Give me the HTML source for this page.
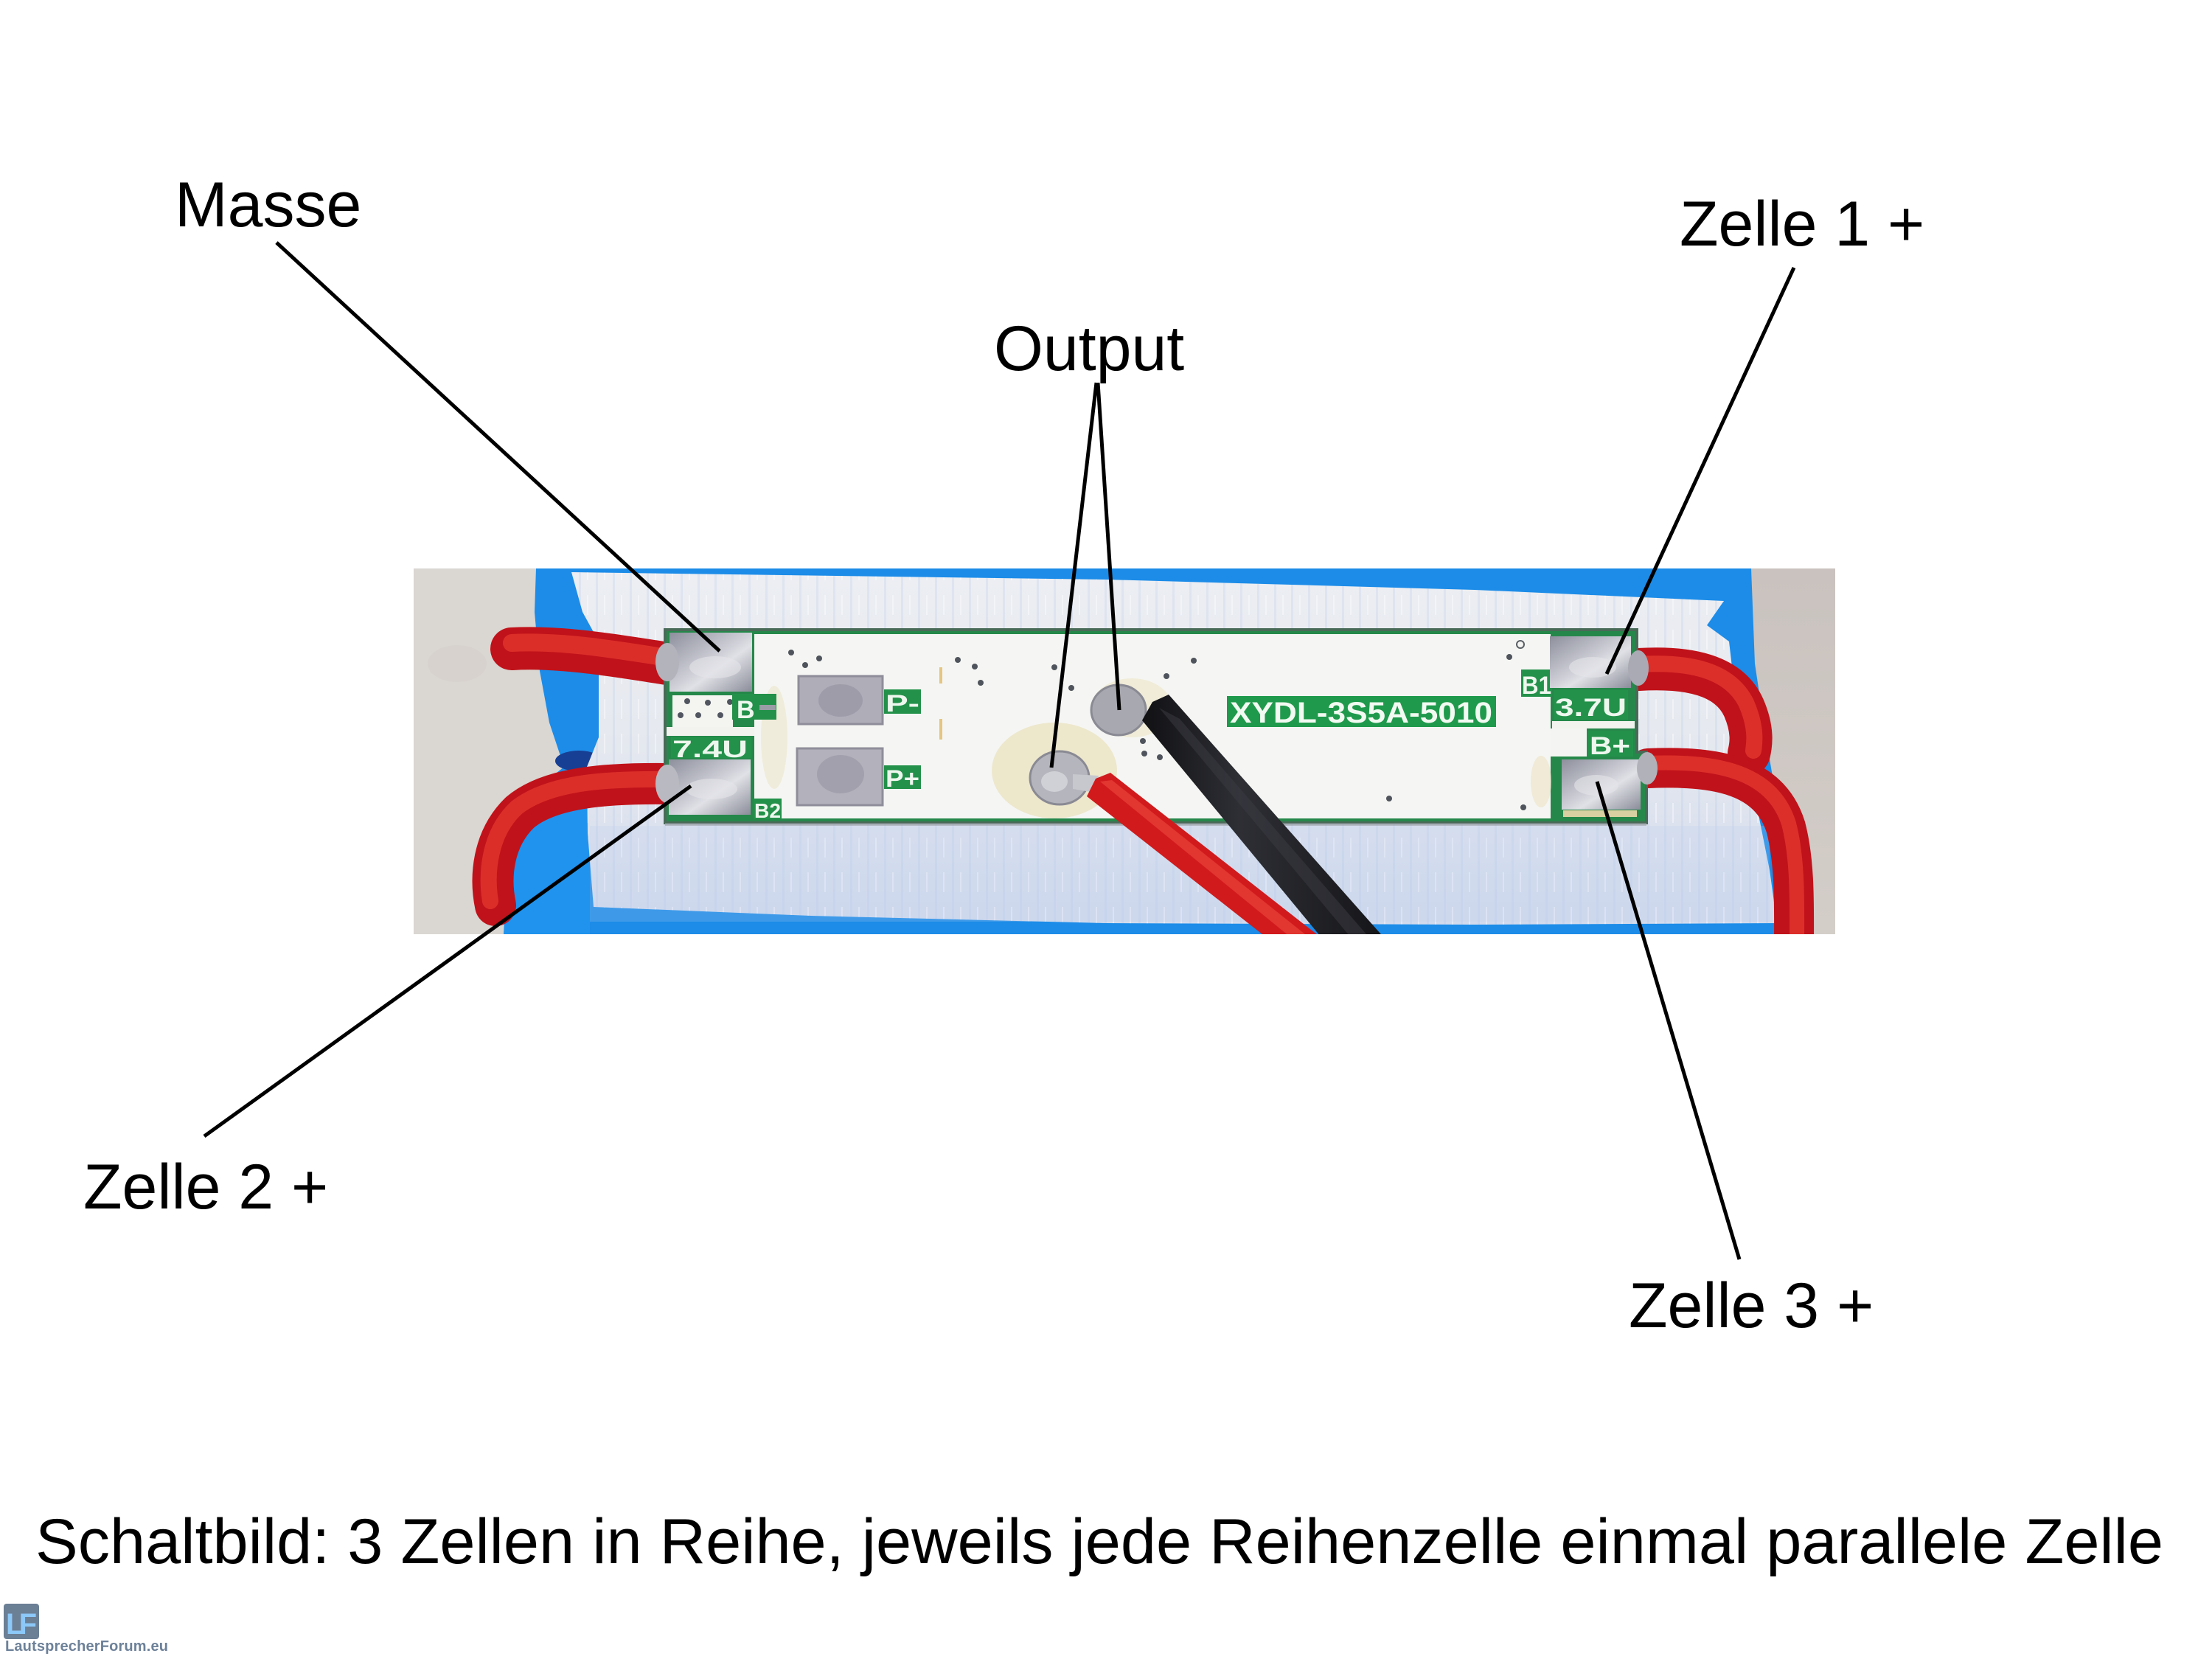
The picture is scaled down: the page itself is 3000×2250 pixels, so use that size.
<!DOCTYPE html>
<html><head><meta charset="utf-8"><style>
html,body{margin:0;padding:0;background:#fff;}
svg{display:block;}
</style></head><body>
<svg width="3000" height="2250" viewBox="0 0 3000 2250" xmlns="http://www.w3.org/2000/svg">
<defs>
 <clipPath id="ph"><rect x="561" y="771" width="1928" height="496"/></clipPath>
 <linearGradient id="tape" x1="0" y1="0" x2="0" y2="1">
   <stop offset="0" stop-color="#eceef3"/>
   <stop offset="0.45" stop-color="#e6e9ef"/>
   <stop offset="1" stop-color="#d2dbee"/>
 </linearGradient>
 <pattern id="streak" width="23" height="47" patternUnits="userSpaceOnUse">
   <rect x="3" y="0" width="3" height="47" fill="#9fbbe6" opacity="0.18"/>
   <rect x="14" y="8" width="2" height="27" fill="#ffffff" opacity="0.4"/>
 </pattern>
 <linearGradient id="beigeR" x1="0" y1="0" x2="0" y2="1">
   <stop offset="0" stop-color="#c9c2be"/>
   <stop offset="1" stop-color="#d4cec9"/>
 </linearGradient>
 <linearGradient id="metal" x1="0" y1="0" x2="1" y2="1">
   <stop offset="0" stop-color="#8d8f9c"/>
   <stop offset="0.45" stop-color="#c9cad2"/>
   <stop offset="0.6" stop-color="#e0e1e6"/>
   <stop offset="1" stop-color="#8a8c99"/>
 </linearGradient>
 <linearGradient id="blk" x1="0" y1="0" x2="1" y2="0">
   <stop offset="0" stop-color="#111114"/>
   <stop offset="0.4" stop-color="#2e2f35"/>
   <stop offset="1" stop-color="#151518"/>
 </linearGradient>
</defs>

<rect x="0" y="0" width="3000" height="2250" fill="#ffffff"/>

<!-- PHOTO -->
<g clip-path="url(#ph)">
  <rect x="561" y="771" width="1928" height="496" fill="#dad6d1"/>
  <rect x="2360" y="771" width="130" height="496" fill="url(#beigeR)"/>
  <ellipse cx="620" cy="900" rx="40" ry="25" fill="#d3cec8" opacity="0.4"/>
  <!-- blue cells -->
  <path d="M727,771 L2375,771 L2380,900 L2395,1000 L2412,1100 L2428,1267 L683,1267 L688,1180 L700,1110 L740,1060 L765,1040 L745,980 L732,910 L725,830 Z" fill="#1c8ce8"/>
  <ellipse cx="785" cy="1032" rx="32" ry="14" fill="#173f93"/>
  <path d="M700,1110 L765,1045 L800,1050 L800,1267 L683,1267 Z" fill="#1f93ee"/>
  <!-- tape -->
  <path d="M775,776 L1500,786 L2000,800 L2338,815 L2315,848 L2345,870 L2360,1000 L2380,1080 L2400,1180 L2410,1252 L2000,1254 L1500,1252 L1100,1242 L805,1230 L797,1130 L796,1040 L812,1000 L812,870 L790,830 Z" fill="url(#tape)"/>
  <path d="M775,776 L1500,786 L2000,800 L2338,815 L2315,848 L2345,870 L2360,1000 L2380,1080 L2400,1180 L2410,1252 L2000,1254 L1500,1252 L1100,1242 L805,1230 L797,1130 L796,1040 L812,1000 L812,870 L790,830 Z" fill="url(#streak)"/>
  <rect x="800" y="1120" width="1600" height="130" fill="#b9cdee" opacity="0.22"/>

  <!-- left/right red wires (behind pads) -->
  <g fill="none" stroke-linecap="round">
    <path d="M694,880 C760,876 840,890 905,900" stroke="#c0121a" stroke-width="58"/>
    <path d="M694,872 C760,868 840,882 905,892" stroke="#e83a30" stroke-width="24" opacity="0.7"/>
    <path d="M905,1063 C820,1062 745,1068 705,1102 C668,1138 664,1190 672,1228" stroke="#c0121a" stroke-width="56"/>
    <path d="M905,1057 C820,1056 745,1061 701,1095 C663,1130 659,1185 665,1222" stroke="#e83a30" stroke-width="22" opacity="0.7"/>
    <path d="M2222,908 C2290,904 2345,915 2365,960 C2378,990 2375,1010 2372,1022" stroke="#c0121a" stroke-width="58"/>
    <path d="M2222,901 C2290,897 2345,908 2368,953 C2382,985 2380,1005 2378,1018" stroke="#ea3c32" stroke-width="22" opacity="0.7"/>
    <path d="M2235,1042 C2330,1038 2400,1052 2422,1122 C2435,1172 2433,1230 2433,1290" stroke="#c0121a" stroke-width="54"/>
    <path d="M2235,1035 C2330,1031 2404,1047 2426,1117 C2439,1167 2437,1226 2437,1290" stroke="#ea3c32" stroke-width="20" opacity="0.7"/>
  </g>

  <!-- PCB -->
  <path d="M902,854 L2220,854 L2220,1020 L2233,1020 L2233,1116 L902,1116 Z" fill="#25884a" stroke="#4a6a58" stroke-width="4"/>
  <rect x="902" y="1116" width="1331" height="4" fill="#9aa0a8" opacity="0.6"/>
  <rect x="1023" y="860" width="1080" height="250" fill="#f5f6f3"/>
  <!-- stains -->
  <ellipse cx="1430" cy="1045" rx="85" ry="65" fill="#e6d7a6" opacity="0.5"/>
  <ellipse cx="1535" cy="960" rx="55" ry="40" fill="#eadfb8" opacity="0.45"/>
  <ellipse cx="1050" cy="1000" rx="18" ry="70" fill="#ebe0bf" opacity="0.45"/>
  <ellipse cx="2090" cy="1060" rx="14" ry="35" fill="#ebe0bf" opacity="0.55"/>
  <rect x="1274" y="905" width="4" height="22" fill="#e0b050" opacity="0.7"/>
  <rect x="1274" y="975" width="4" height="28" fill="#e0b050" opacity="0.7"/>

  <!-- left end block -->
  <rect x="912" y="943" width="82" height="43" fill="#f4f4f0"/>
  <rect x="904" y="986" width="119" height="12" fill="#f2f2ee"/>
  <g fill="#505560">
    <circle cx="932" cy="951" r="4"/><circle cx="960" cy="953" r="4"/><circle cx="990" cy="952" r="4"/>
    <circle cx="923" cy="970" r="4"/><circle cx="947" cy="970" r="4"/><circle cx="977" cy="970" r="4"/>
  </g>
  <rect x="993" y="941" width="60" height="35" fill="#23914a"/>
  <text x="999" y="974" font-family="Liberation Sans, sans-serif" font-weight="bold" font-size="34" fill="#eef7ee">B</text>
  <rect x="1030" y="956" width="22" height="7" fill="#9a9ca6"/>
  <rect x="910" y="999" width="109" height="29" fill="#23914a"/>
  <text x="912" y="1027" font-family="Liberation Sans, sans-serif" font-weight="bold" font-size="32" fill="#eef7ee" textLength="102" lengthAdjust="spacingAndGlyphs">7.4U</text>
  <rect x="1022" y="1083" width="38" height="28" fill="#23914a"/>
  <text x="1023" y="1109" font-family="Liberation Sans, sans-serif" font-weight="bold" font-size="28" fill="#eef7ee" textLength="36" lengthAdjust="spacingAndGlyphs">B2</text>
  <!-- left pads -->
  <rect x="908" y="858" width="112" height="80" fill="url(#metal)"/>
  <ellipse cx="905" cy="898" rx="16" ry="26" fill="#b2b3bb"/>
  <ellipse cx="970" cy="905" rx="35" ry="15" fill="#e4e5ea" opacity="0.6"/>
  <rect x="907" y="1030" width="111" height="75" fill="url(#metal)"/>
  <ellipse cx="905" cy="1063" rx="16" ry="26" fill="#b9bac1"/>
  <ellipse cx="965" cy="1070" rx="35" ry="14" fill="#e4e5ea" opacity="0.6"/>

  <!-- P pads -->
  <rect x="1083" y="917" width="114" height="65" fill="#afadb8" stroke="#8e8d99" stroke-width="3"/>
  <ellipse cx="1140" cy="950" rx="30" ry="22" fill="#8f8c9c" opacity="0.5"/>
  <rect x="1081" y="1015" width="116" height="77" fill="#b3b1bb" stroke="#8e8d99" stroke-width="3"/>
  <ellipse cx="1140" cy="1050" rx="32" ry="26" fill="#8f8c9c" opacity="0.45"/>
  <rect x="1199" y="935" width="50" height="33" fill="#23914a"/>
  <text x="1201" y="965" font-family="Liberation Sans, sans-serif" font-weight="bold" font-size="32" fill="#eef7ee" textLength="46" lengthAdjust="spacingAndGlyphs">P-</text>
  <rect x="1199" y="1038" width="50" height="32" fill="#23914a"/>
  <text x="1201" y="1067" font-family="Liberation Sans, sans-serif" font-weight="bold" font-size="32" fill="#eef7ee" textLength="46" lengthAdjust="spacingAndGlyphs">P+</text>

  <!-- dots -->
  <g fill="#4f545c">
    <circle cx="1073" cy="885" r="4"/><circle cx="1111" cy="893" r="4"/><circle cx="1092" cy="902" r="4"/>
    <circle cx="1299" cy="895" r="4"/><circle cx="1322" cy="904" r="4"/><circle cx="1330" cy="926" r="4"/>
    <circle cx="1430" cy="905" r="4"/><circle cx="1453" cy="933" r="4"/><circle cx="1619" cy="896" r="4"/>
    <circle cx="1582" cy="917" r="4"/><circle cx="1550" cy="1005" r="4"/><circle cx="1552" cy="1022" r="4"/>
    <circle cx="1573" cy="1027" r="4"/><circle cx="1884" cy="1083" r="4"/><circle cx="2047" cy="891" r="4"/>
    <circle cx="2066" cy="1095" r="4"/>
  </g>
  <circle cx="2062" cy="874" r="5" fill="none" stroke="#5a5f66" stroke-width="2"/>

  <!-- XYDL label -->
  <rect x="1664" y="944" width="365" height="42" fill="#1f9a4c"/>
  <text x="1668" y="980" font-family="Liberation Sans, sans-serif" font-weight="bold" font-size="40" fill="#f2faf2" textLength="356" lengthAdjust="spacingAndGlyphs">XYDL-3S5A-5010</text>

  <!-- right end block -->
  <rect x="2063" y="908" width="42" height="37" fill="#23914a"/>
  <text x="2064" y="941" font-family="Liberation Sans, sans-serif" font-weight="bold" font-size="34" fill="#eef7ee" textLength="40" lengthAdjust="spacingAndGlyphs">B1</text>
  <rect x="2105" y="978" width="112" height="10" fill="#f2f2ee"/>
  <rect x="2103" y="988" width="49" height="38" fill="#f4f5f2"/>
  <rect x="2107" y="936" width="101" height="40" fill="#23914a"/>
  <text x="2109" y="971" font-family="Liberation Sans, sans-serif" font-weight="bold" font-size="34" fill="#eef7ee" textLength="97" lengthAdjust="spacingAndGlyphs">3.7U</text>
  <rect x="2152" y="991" width="63" height="35" fill="#23914a"/>
  <text x="2156" y="1023" font-family="Liberation Sans, sans-serif" font-weight="bold" font-size="34" fill="#eef7ee" textLength="55" lengthAdjust="spacingAndGlyphs">B+</text>
  <rect x="2102" y="863" width="110" height="70" fill="url(#metal)"/>
  <ellipse cx="2222" cy="906" rx="14" ry="24" fill="#a9aab3"/>
  <ellipse cx="2160" cy="905" rx="32" ry="14" fill="#e4e5ea" opacity="0.6"/>
  <rect x="2118" y="1030" width="107" height="68" fill="url(#metal)"/>
  <ellipse cx="2234" cy="1042" rx="14" ry="22" fill="#b0b1b9"/>
  <ellipse cx="2165" cy="1065" rx="30" ry="14" fill="#e4e5ea" opacity="0.6"/>
  <rect x="2120" y="1099" width="100" height="9" fill="#d8d0a0"/>

  <!-- output pads -->
  <ellipse cx="1517" cy="963" rx="37" ry="34" fill="#a8a8b0" stroke="#8a8a94" stroke-width="3"/>
  <ellipse cx="1437" cy="1055" rx="40" ry="36" fill="#b5b5bd" stroke="#8a8a94" stroke-width="3"/>
  <ellipse cx="1430" cy="1060" rx="18" ry="14" fill="#dcdde2" opacity="0.7"/>
  <path d="M1455,1050 L1490,1052 L1485,1075 L1455,1070 Z" fill="#c7c8ce"/>

  <!-- output wires -->
  <path d="M1549,977 L1563,952 L1585,942 L1880,1275 L1795,1275 Z" fill="url(#blk)"/>
  <path d="M1572,960 L1600,975 L1860,1275 L1835,1275 Z" fill="#3b3c44" opacity="0.5"/>
  <path d="M1474,1080 L1486,1056 L1506,1048 L1796,1275 L1722,1275 Z" fill="#d11a1c"/>
  <path d="M1492,1060 L1508,1058 L1780,1275 L1755,1275 Z" fill="#ec4a40" opacity="0.6"/>
</g>

<!-- connector lines -->
<g stroke="#000" stroke-width="5" stroke-linecap="butt" fill="none">
  <line x1="375" y1="329" x2="976" y2="883"/>
  <line x1="1487" y1="519" x2="1426" y2="1041"/>
  <line x1="1489" y1="519" x2="1518" y2="963"/>
  <line x1="2433" y1="363" x2="2179" y2="914"/>
  <line x1="277" y1="1541" x2="937" y2="1066"/>
  <line x1="2359" y1="1708" x2="2166" y2="1060"/>
</g>

<!-- labels -->
<g font-family="'Liberation Sans', Arial, sans-serif" fill="#000">
  <text x="237" y="307" font-size="86">Masse</text>
  <text x="1348" y="502" font-size="86">Output</text>
  <text x="2278" y="333" font-size="86">Zelle 1 +</text>
  <text x="113" y="1639" font-size="86">Zelle 2 +</text>
  <text x="2209" y="1800" font-size="86">Zelle 3 +</text>
  <text x="48" y="2120" font-size="86.5" textLength="2886">Schaltbild: 3 Zellen in Reihe, jeweils jede Reihenzelle einmal parallele Zelle</text>
</g>

<!-- logo -->
<rect x="5" y="2175" width="48" height="48" rx="4" fill="#6b7f95"/>
<text x="8" y="2216" font-family="'Liberation Sans', sans-serif" font-weight="bold" font-size="40" fill="#8cc8f8" textLength="42">LF</text>
<text x="7" y="2239" font-family="'Liberation Sans', sans-serif" font-weight="bold" font-size="20" fill="#6d8199" textLength="221">LautsprecherForum.eu</text>
</svg>
</body></html>
